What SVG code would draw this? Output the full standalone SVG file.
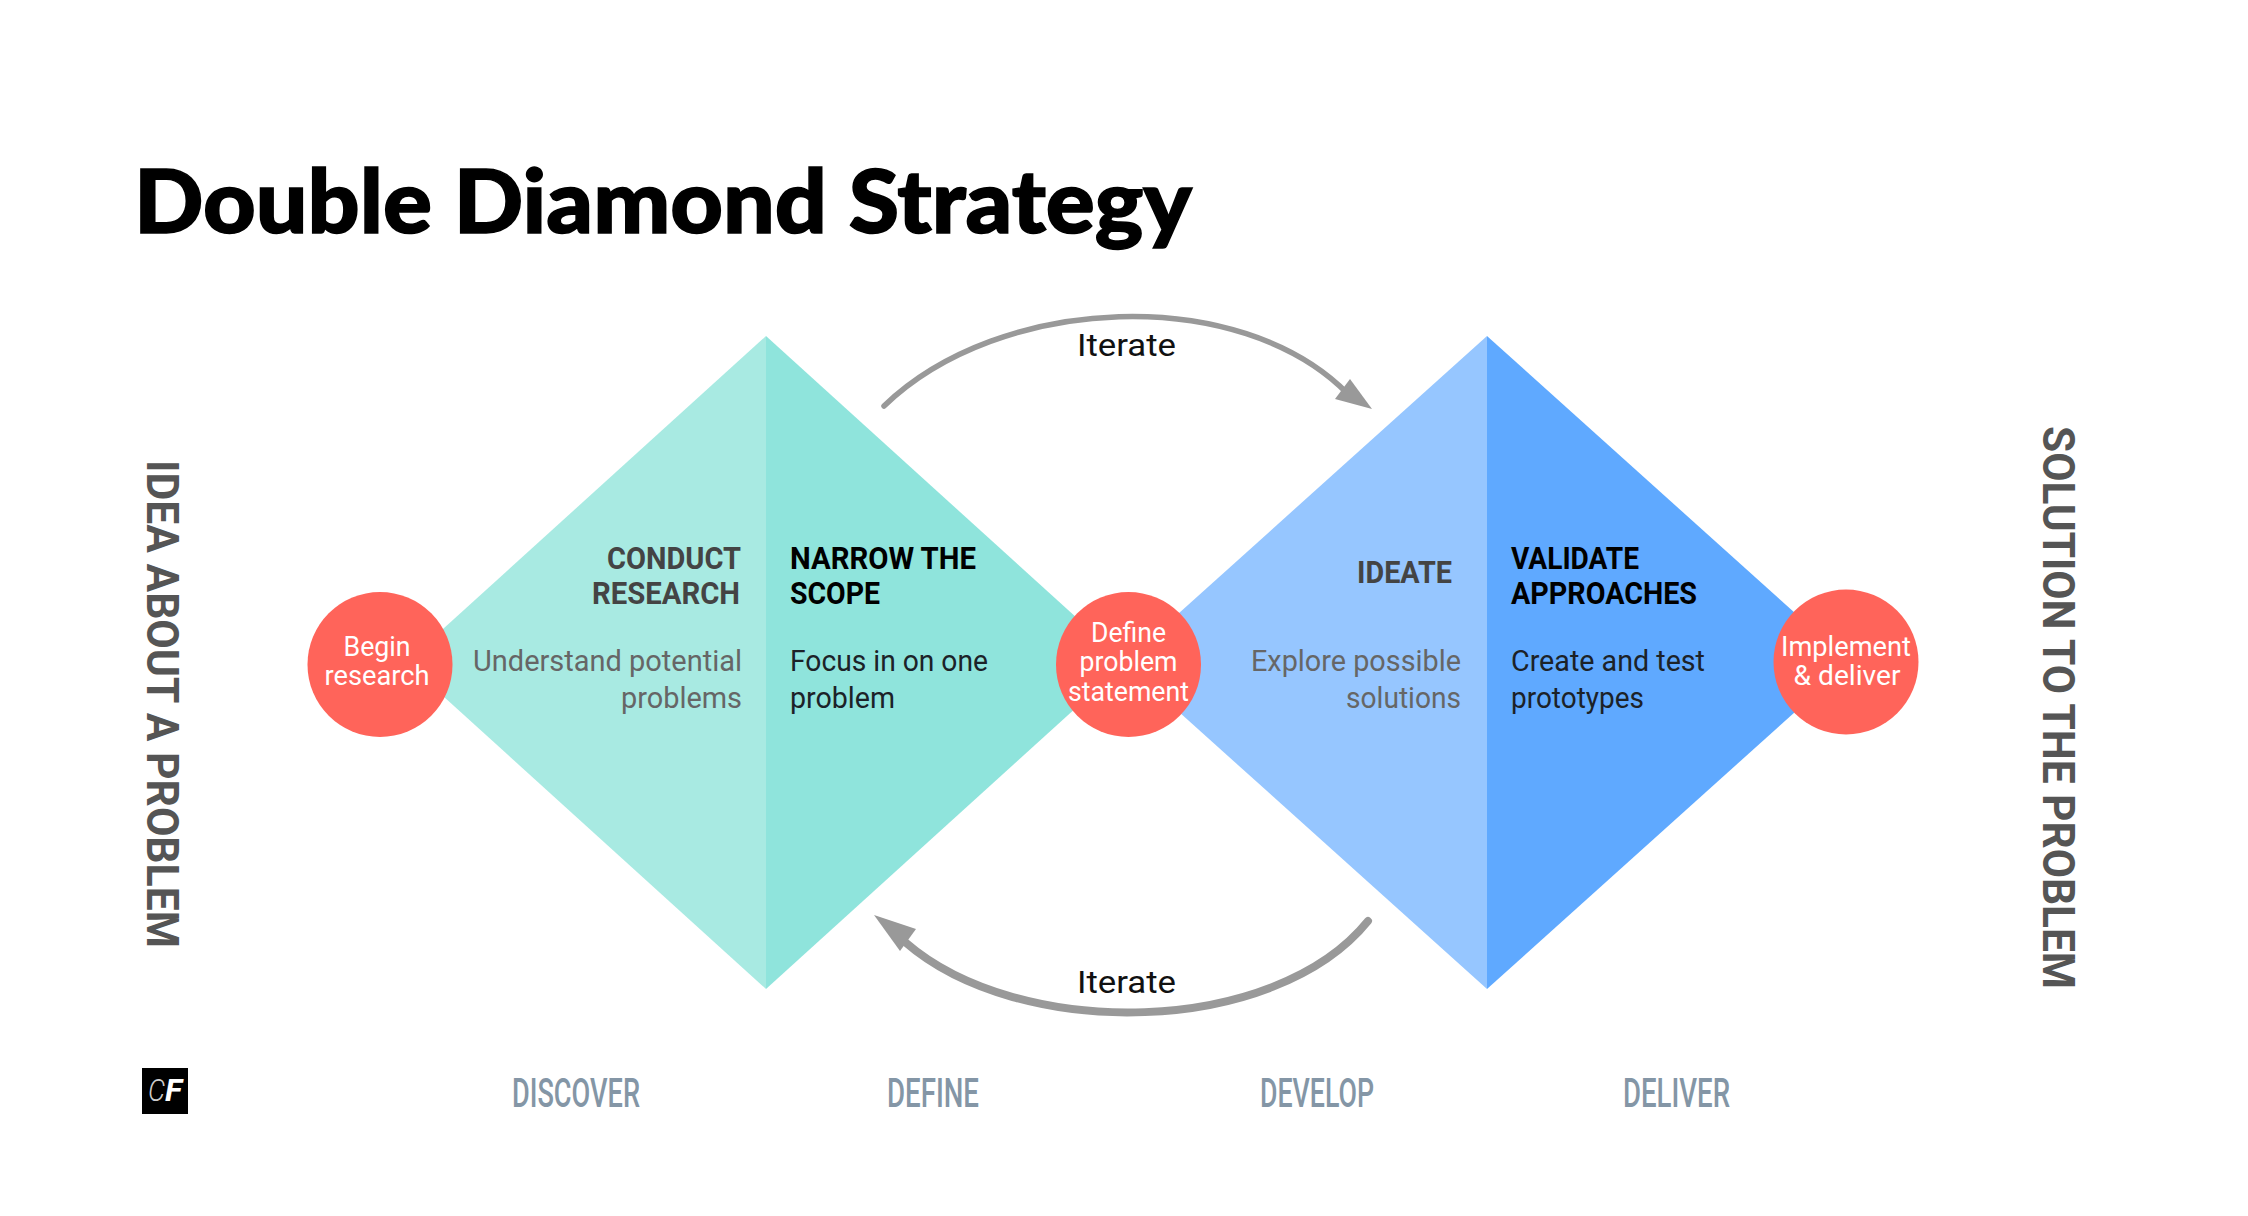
<svg xmlns="http://www.w3.org/2000/svg" width="2248" height="1216" viewBox="0 0 2248 1216">
<style>
text{font-family:"Roboto","Liberation Sans",sans-serif;white-space:pre}
.t{font-family:"Lato","Liberation Sans",sans-serif;font-weight:900;font-size:88px;fill:#000;stroke:#000;stroke-width:1.5px}
.h{font-size:32px;font-weight:700}
.b{font-size:30px;font-weight:400}
.c{font-size:27px;font-weight:400;fill:#fff}
.it{font-size:32px;font-weight:400;fill:#111}
.s{font-size:45px;font-weight:700;fill:#555}
.p{font-size:41px;font-weight:500;fill:#8496a6}
.dk{fill:#000}.dg{fill:#444}.mg{fill:#666}.bk{fill:#1c2228}
.circ{fill:#ff645a}
.ar{fill:none;stroke:#999;stroke-linecap:round}
.ah{fill:#999}
</style>
<rect width="2248" height="1216" fill="#fff"/>
<text id="title" class="t" x="134" y="233" textLength="1058" lengthAdjust="spacingAndGlyphs">Double Diamond Strategy</text>

<g id="diamond-discover">
<polygon points="766,336 406,662.500 766,989" fill="#a8eae2"/>
<text class="h dg" x="741" y="569" text-anchor="end" textLength="134" lengthAdjust="spacingAndGlyphs">CONDUCT</text>
<text class="h dg" x="740" y="603.500" text-anchor="end" textLength="148" lengthAdjust="spacingAndGlyphs">RESEARCH</text>
<text class="b mg" x="742" y="671" text-anchor="end" textLength="269" lengthAdjust="spacingAndGlyphs">Understand potential</text>
<text class="b mg" x="742" y="708" text-anchor="end" textLength="121" lengthAdjust="spacingAndGlyphs">problems</text>
</g>
<g id="diamond-define">
<polygon points="766,336 1126,662.500 766,989" fill="#8fe4dc"/>
<text class="h dk" x="790" y="569" textLength="186" lengthAdjust="spacingAndGlyphs">NARROW THE</text>
<text class="h dk" x="790" y="603.500" textLength="90" lengthAdjust="spacingAndGlyphs">SCOPE</text>
<text class="b bk" x="790" y="671" textLength="198" lengthAdjust="spacingAndGlyphs">Focus in on one</text>
<text class="b bk" x="790" y="708" textLength="105" lengthAdjust="spacingAndGlyphs">problem</text>
</g>
<g id="diamond-develop">
<polygon points="1487,336 1124,662.500 1487,989" fill="#96c6ff"/>
<text class="h dg" x="1452" y="583" text-anchor="end" textLength="95" lengthAdjust="spacingAndGlyphs">IDEATE</text>
<text class="b mg" x="1461" y="671" text-anchor="end" textLength="210" lengthAdjust="spacingAndGlyphs">Explore possible</text>
<text class="b mg" x="1461" y="708" text-anchor="end" textLength="115" lengthAdjust="spacingAndGlyphs">solutions</text>
</g>
<g id="diamond-deliver">
<polygon points="1487,336 1850,662.500 1487,989" fill="#5fa9ff"/>
<text class="h dk" x="1511" y="569" textLength="128" lengthAdjust="spacingAndGlyphs">VALIDATE</text>
<text class="h dk" x="1511" y="603.500" textLength="186" lengthAdjust="spacingAndGlyphs">APPROACHES</text>
<text class="b bk" x="1511" y="671" textLength="194" lengthAdjust="spacingAndGlyphs">Create and test</text>
<text class="b bk" x="1511" y="708" textLength="133" lengthAdjust="spacingAndGlyphs">prototypes</text>
</g>

<g id="node-begin">
<circle class="circ" cx="380" cy="664.500" r="72.500"/>
<text class="c" x="377" y="656" text-anchor="middle" textLength="67" lengthAdjust="spacingAndGlyphs">Begin</text>
<text class="c" x="377" y="685" text-anchor="middle" textLength="105" lengthAdjust="spacingAndGlyphs">research</text>
</g>
<g id="node-define">
<circle class="circ" cx="1128.500" cy="664.500" r="72.500"/>
<text class="c" x="1128.500" y="642" text-anchor="middle" textLength="75" lengthAdjust="spacingAndGlyphs">Define</text>
<text class="c" x="1128.500" y="671" text-anchor="middle" textLength="98" lengthAdjust="spacingAndGlyphs">problem</text>
<text class="c" x="1128.500" y="701" text-anchor="middle" textLength="121" lengthAdjust="spacingAndGlyphs">statement</text>
</g>
<g id="node-implement">
<circle class="circ" cx="1846" cy="662" r="72.500"/>
<text class="c" x="1846" y="656" text-anchor="middle" textLength="130" lengthAdjust="spacingAndGlyphs">Implement</text>
<text class="c" x="1847" y="685" text-anchor="middle" textLength="107" lengthAdjust="spacingAndGlyphs">&amp; deliver</text>
</g>

<g id="connectors">
<path class="ar" stroke-width="5.500" d="M884 406C1000 294 1240 284 1348 394"/>
<polygon class="ah" points="1372,409 1350,379 1335,399"/>
<path class="ar" stroke-width="8" d="M1368 921C1275 1036 1020 1042 905 942"/>
<polygon class="ah" points="874,915 916,929 900,951"/>
</g>
<text id="label-iterate-top" class="it" x="1077" y="356" textLength="99" lengthAdjust="spacingAndGlyphs">Iterate</text>
<text id="label-iterate-bottom" class="it" x="1077" y="993" textLength="99" lengthAdjust="spacingAndGlyphs">Iterate</text>

<text id="side-left" class="s" transform="translate(147 460) rotate(90)" textLength="488" lengthAdjust="spacingAndGlyphs">IDEA ABOUT A PROBLEM</text>
<text id="side-right" class="s" transform="translate(2043 426) rotate(90)" textLength="563" lengthAdjust="spacingAndGlyphs">SOLUTION TO THE PROBLEM</text>

<text id="phase-discover" class="p" x="512" y="1107" textLength="128" lengthAdjust="spacingAndGlyphs">DISCOVER</text>
<text id="phase-define" class="p" x="887" y="1107" textLength="92" lengthAdjust="spacingAndGlyphs">DEFINE</text>
<text id="phase-develop" class="p" x="1260" y="1107" textLength="114" lengthAdjust="spacingAndGlyphs">DEVELOP</text>
<text id="phase-deliver" class="p" x="1623" y="1107" textLength="107" lengthAdjust="spacingAndGlyphs">DELIVER</text>

<g id="logo">
<rect x="142" y="1068" width="46" height="46" fill="#000"/>
<text x="148" y="1101" font-size="32" font-style="italic" font-weight="300" fill="#ccc" textLength="17" lengthAdjust="spacingAndGlyphs">C</text>
<text x="165" y="1101" font-size="32" font-style="italic" font-weight="700" fill="#fff" textLength="17" lengthAdjust="spacingAndGlyphs">F</text>
</g>
</svg>
